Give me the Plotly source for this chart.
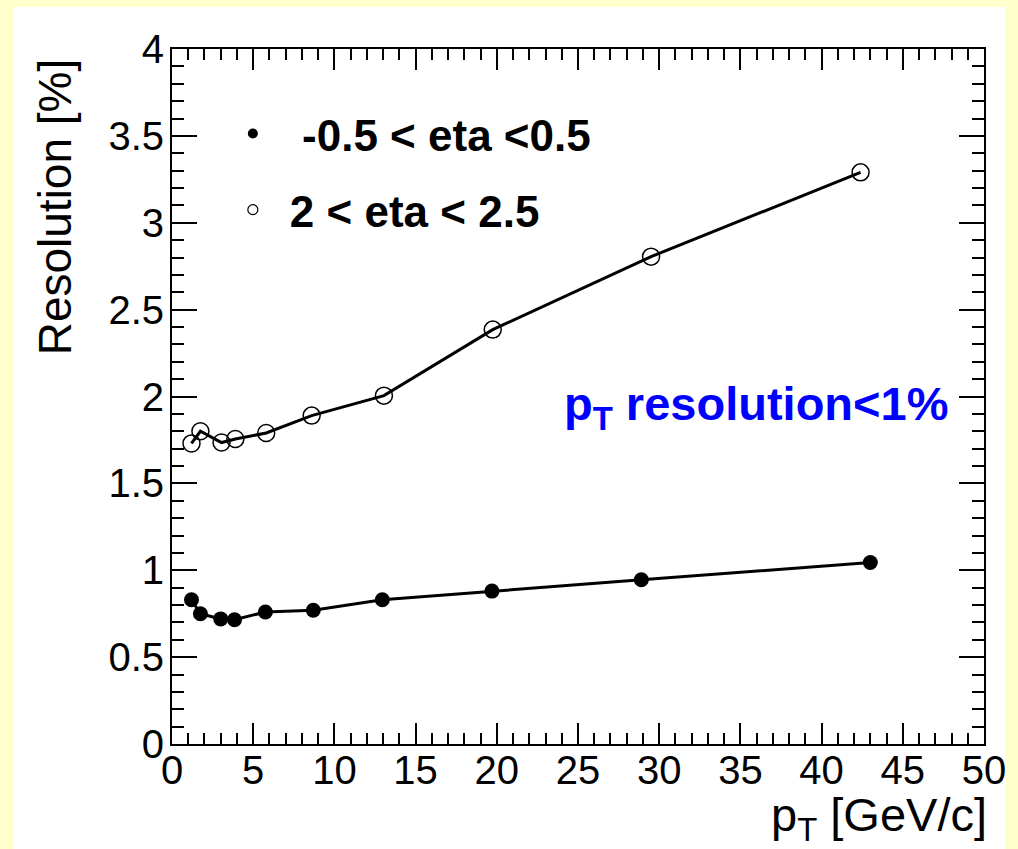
import plotly.graph_objects as go

# pT resolution vs pT for two pseudorapidity bins
pt_central = [1.2, 1.75, 3.0, 3.85, 5.75, 8.7, 12.95, 19.7, 28.9, 43.0]
res_central = [0.83, 0.75, 0.72, 0.715, 0.76, 0.77, 0.83, 0.88, 0.945, 1.045]

pt_forward = [1.2, 1.75, 3.05, 3.9, 5.8, 8.6, 13.05, 19.75, 29.5, 42.4]
res_forward = [1.73, 1.80, 1.735, 1.755, 1.79, 1.89, 2.005, 2.385, 2.805, 3.29]

label_central = "\u00a0-0.5 < eta <0.5"
label_forward = "2 < eta < 2.5"

x_title = "p<sub>T</sub> [GeV/c]"
y_title = "Resolution [%]"
note_text = "p<sub>T</sub> resolution<1%"

FONT = "Liberation Sans, Arial, Helvetica, sans-serif"

fig = go.Figure()

# data curves (markers joined by straight lines)
fig.add_trace(go.Scatter(
    x=pt_central, y=res_central, mode="lines+markers", showlegend=False,
    line=dict(color="black", width=3),
    marker=dict(symbol="circle", size=15, color="black"),
))
fig.add_trace(go.Scatter(
    x=pt_forward, y=res_forward, mode="lines+markers", showlegend=False,
    line=dict(color="black", width=3),
    marker=dict(symbol="circle-open", size=17, color="black", line=dict(width=1.5)),
))

# legend entries: small marker only
fig.add_trace(go.Scatter(
    x=[None], y=[None], mode="markers", name=label_central, legendgroup="a",
    marker=dict(symbol="circle", size=10, color="black"),
))
fig.add_trace(go.Scatter(
    x=[None], y=[None], mode="markers", name=label_forward, legendgroup="b",
    marker=dict(symbol="circle-open", size=10, color="black", line=dict(width=1.2)),
))

axis_common = dict(
    showgrid=False, zeroline=False,
    showline=True, linecolor="black", linewidth=2,
    mirror="ticks", ticks="inside", tickcolor="black", tickwidth=2,
    tickfont=dict(family=FONT, size=40, color="black"),
)

fig.update_xaxes(
    range=[0, 50], dtick=5, tick0=0, ticklen=21, ticklabelstandoff=-10,
    minor=dict(ticks="inside", dtick=1, ticklen=11, tickcolor="black", tickwidth=2),
    **axis_common,
)
fig.update_yaxes(
    range=[0, 4], dtick=0.5, tick0=0, ticklen=25, ticklabelstandoff=-2,
    minor=dict(ticks="inside", dtick=0.1, ticklen=12, tickcolor="black", tickwidth=2),
    **axis_common,
)

fig.update_layout(
    width=1018, height=849,
    margin=dict(l=172, r=30, t=49, b=105),
    paper_bgcolor="#ffffcc",
    plot_bgcolor="white",
    font=dict(family=FONT, color="black"),
    showlegend=True,
    legend=dict(
        x=0.054, y=0.929, xanchor="left", yanchor="top",
        bgcolor="rgba(0,0,0,0)", borderwidth=0,
        font=dict(family=FONT, size=44, color="black", weight="bold"),
        tracegroupgap=16, itemsizing="trace", itemwidth=64,
    ),
    shapes=[dict(
        type="rect", xref="paper", yref="paper", layer="below",
        x0=-0.195, x1=1.026, y0=-0.2, y1=1.0604,
        fillcolor="white", line=dict(width=0),
    )],
    annotations=[
        dict(text=y_title, xref="paper", yref="paper", x=-0.143, y=0.99,
             xanchor="center", yanchor="top", textangle=-90, showarrow=False,
             font=dict(family=FONT, size=46, color="black")),
        dict(text=x_title, xref="paper", yref="paper", x=1.005, y=-0.151,
             xanchor="right", yanchor="bottom", showarrow=False, borderpad=0,
             font=dict(family=FONT, size=47, color="black")),
        dict(text=note_text, xref="paper", yref="paper", x=0.48, y=0.485,
             xanchor="left", yanchor="middle", showarrow=False,
             font=dict(family=FONT, size=47, color="#0000ff", weight="bold")),
    ],
)

fig.write_html("out.html")
